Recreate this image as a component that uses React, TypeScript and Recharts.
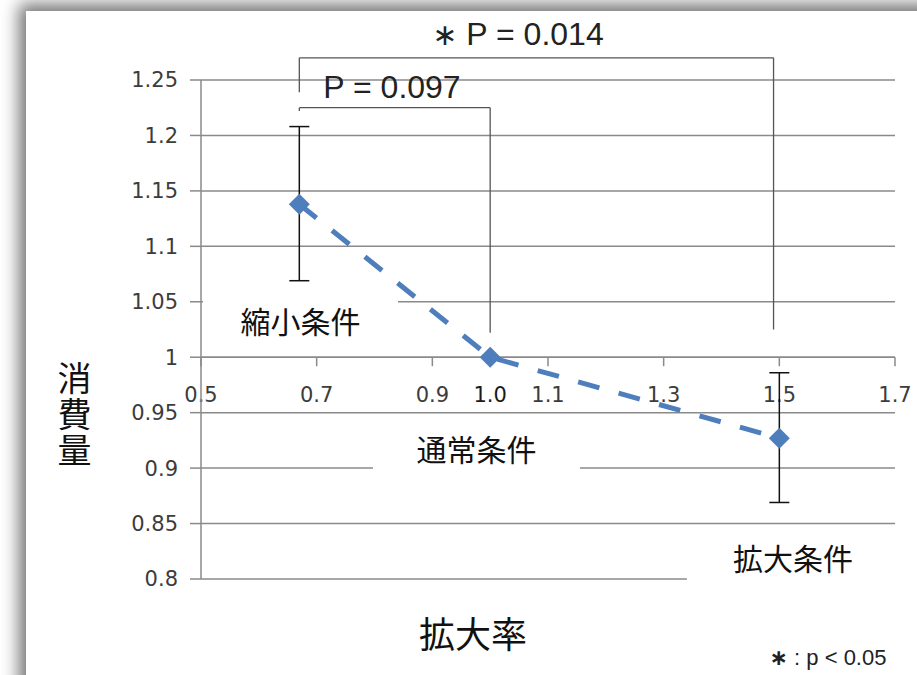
import React from 'react';
import {
  ComposedChart,
  Line,
  XAxis,
  YAxis,
  CartesianGrid,
  ReferenceLine,
  ErrorBar,
} from 'recharts';

// ---- data ----
const magnification = [0.67, 1.0, 1.5];
const consumption = [1.138, 1.0, 0.927];
const errLow = [0.069, null, 0.058];
const errHigh = [0.07, null, 0.059];
const conditionLabels = ['縮小条件', '通常条件', '拡大条件'];
const yTicks = [0.8, 0.85, 0.9, 0.95, 1, 1.05, 1.1, 1.15, 1.2, 1.25];
const yTickLabels = ['0.8', '0.85', '0.9', '0.95', '1', '1.05', '1.1', '1.15', '1.2', '1.25'];
const xTicks = [0.5, 0.7, 0.9, 1.1, 1.3, 1.5, 1.7];
const xTickLabels = ['0.5', '0.7', '0.9', '1.1', '1.3', '1.5', '1.7'];
const xExtraLabel = { value: 1.0, text: '1.0' };
const xCross = 1; // x axis crosses y at 1
const smallBracket = { x1: 0.67, x2: 1.0, top: 1.225, leftBottom: 1.222, rightBottom: 1.022 };
const largeBracket = { x1: 0.67, x2: 1.49, top: 1.27, leftBottom: 1.239, rightBottom: 1.025 };
const pSmall = 'P = 0.097';
const pLarge = 'P = 0.014';
const xTitle = '拡大率';
const yTitle = '消費量';
const footnote = ' : p < 0.05';

const data = magnification.map((x, i) => ({
  x,
  y: consumption[i],
  err: errLow[i] == null ? null : [errLow[i], errHigh[i]],
}));

const BLUE = '#4f7ebd';
const GRID = '#8a8a8a';
const CJK = '"Noto Sans CJK JP", "Noto Sans", sans-serif';
const NUM = '"DejaVu Sans", sans-serif';

const Diamond = (props: any) => {
  const { cx, cy, index } = props;
  if (cx == null || cy == null) return <g key={index} />;
  const r = 10.5;
  return (
    <path
      key={index}
      d={`M${cx},${cy - r} L${cx + r},${cy} L${cx},${cy + r} L${cx - r},${cy} Z`}
      fill={BLUE}
    />
  );
};

const makeTickShape = (label: string, showTick: boolean, dark: boolean) => (props: any) => {
  const { x1, y1, y2 } = props;
  const top = Math.min(y1, y2);
  return (
    <g>
      {showTick && <line x1={x1} y1={top} x2={x1} y2={top + 9} stroke={GRID} strokeWidth={1.5} />}
      <text
        x={x1}
        y={top + 38}
        textAnchor="middle"
        dominantBaseline="central"
        fontFamily={NUM}
        fontSize={21}
        fill={dark ? '#1a1a1a' : '#3c3c3c'}
      >
        {label}
      </text>
    </g>
  );
};

const seg = (ax: number, ay: number, bx: number, by: number, key: string) => (
  <ReferenceLine
    key={key}
    segment={[{ x: ax, y: ay }, { x: bx, y: by }]}
    stroke="#555"
    strokeWidth={1.3}
    ifOverflow="visible"
  />
);

const labelBox = (
  text: string,
  left: number,
  top: number,
  width: number,
  height: number,
  size: number
) => (
  <div
    style={{
      position: 'absolute',
      left,
      top,
      width,
      height,
      background: '#fff',
      display: 'flex',
      alignItems: 'center',
      justifyContent: 'center',
      fontFamily: CJK,
      fontSize: size,
      color: '#111',
      lineHeight: 1,
    }}
  >
    {text}
  </div>
);

export default function App() {
  return (
    <div
      style={{
        position: 'absolute',
        left: 0,
        top: 0,
        width: 917,
        height: 675,
        overflow: 'hidden',
        background: '#fff',
      }}
    >
      <div
        style={{
          position: 'absolute',
          left: 26,
          top: 11,
          width: 1000,
          height: 800,
          background: '#fff',
          boxShadow: '0 0 16px 7px rgba(0,0,0,0.55)',
        }}
      />
      <div style={{ position: 'absolute', left: 0, top: 0 }}>
        <ComposedChart
          width={917}
          height={675}
          data={data}
          margin={{ top: 80, right: 22, bottom: 96, left: 141 }}
        >
          <CartesianGrid vertical={false} stroke={GRID} strokeWidth={1.5} />
          <XAxis
            type="number"
            dataKey="x"
            domain={[0.5, 1.7]}
            allowDataOverflow
            hide
          />
          <YAxis
            type="number"
            width={60}
            domain={[0.8, 1.25]}
            ticks={yTicks}
            allowDataOverflow
            tickFormatter={(v: number) => yTickLabels[yTicks.indexOf(v)] ?? String(v)}
            axisLine={{ stroke: GRID, strokeWidth: 1.5 }}
            tickLine={{ stroke: GRID, strokeWidth: 1.5 }}
            tickSize={11}
            tickMargin={12}
            tick={{ fontFamily: NUM, fontSize: 21, fill: '#3c3c3c' }}
          />
          <ReferenceLine y={xCross} stroke={GRID} strokeWidth={1.5} />
          {xTicks.map((t, i) => (
            <ReferenceLine
              key={'xt' + i}
              segment={[{ x: t, y: xCross }, { x: t, y: 0.8 }]}
              shape={makeTickShape(xTickLabels[i], true, false)}
            />
          ))}
          <ReferenceLine
            segment={[{ x: xExtraLabel.value, y: xCross }, { x: xExtraLabel.value, y: 0.8 }]}
            shape={makeTickShape(xExtraLabel.text, false, true)}
          />
          {seg(largeBracket.x1, largeBracket.leftBottom, largeBracket.x1, largeBracket.top, 'lb1')}
          {seg(largeBracket.x1, largeBracket.top, largeBracket.x2, largeBracket.top, 'lb2')}
          {seg(largeBracket.x2, largeBracket.top, largeBracket.x2, largeBracket.rightBottom, 'lb3')}
          {seg(smallBracket.x1, smallBracket.leftBottom, smallBracket.x1, smallBracket.top, 'sb1')}
          {seg(smallBracket.x1, smallBracket.top, smallBracket.x2, smallBracket.top, 'sb2')}
          {seg(smallBracket.x2, smallBracket.top, smallBracket.x2, smallBracket.rightBottom, 'sb3')}
          <Line
            type="linear"
            dataKey="y"
            stroke={BLUE}
            strokeWidth={5}
            strokeDasharray="22 20"
            dot={Diamond}
            activeDot={false}
            isAnimationActive={false}
          >
            <ErrorBar
              dataKey="err"
              direction="y"
              width={10}
              stroke="#111"
              strokeWidth={1.5}
              isAnimationActive={false}
            />
          </Line>
        </ComposedChart>
      </div>

      {/* condition labels with white backgrounds */}
      {labelBox(conditionLabels[0], 203, 288, 195, 64, 30)}
      {labelBox(conditionLabels[1], 373, 420, 207, 56, 30)}
      {labelBox(conditionLabels[2], 687, 526, 212, 62, 30)}

      {/* p-value annotations */}
      <div
        style={{
          position: 'absolute',
          left: 518,
          top: 34,
          transform: 'translate(-50%, -50%)',
          whiteSpace: 'nowrap',
          fontFamily: '"Liberation Sans", Arial, sans-serif',
          fontSize: 32,
          color: '#222',
          lineHeight: 1,
        }}
      >
        <span style={{ fontFamily: NUM, fontSize: 30 }}>∗</span> {pLarge}
      </div>
      <div
        style={{
          position: 'absolute',
          left: 392,
          top: 87,
          transform: 'translate(-50%, -50%)',
          whiteSpace: 'nowrap',
          fontFamily: '"Liberation Sans", Arial, sans-serif',
          fontSize: 32,
          color: '#222',
          lineHeight: 1,
        }}
      >
        {pSmall}
      </div>

      {/* axis titles */}
      <div
        style={{
          position: 'absolute',
          left: 74,
          top: 415,
          transform: 'translate(-50%, -50%)',
          fontFamily: CJK,
          fontSize: 34,
          lineHeight: 1,
          letterSpacing: 2,
          color: '#111',
          writingMode: 'vertical-rl',
          textOrientation: 'upright',
          whiteSpace: 'nowrap',
        }}
      >
        {yTitle}
      </div>
      <div
        style={{
          position: 'absolute',
          left: 473,
          top: 632,
          transform: 'translate(-50%, -50%)',
          fontFamily: CJK,
          fontSize: 36,
          lineHeight: 1,
          color: '#111',
          whiteSpace: 'nowrap',
        }}
      >
        {xTitle}
      </div>

      {/* footnote */}
      <div
        style={{
          position: 'absolute',
          left: 828,
          top: 658,
          transform: 'translate(-50%, -50%)',
          fontFamily: '"Liberation Sans", Arial, sans-serif',
          fontSize: 22,
          lineHeight: 1,
          color: '#222',
          whiteSpace: 'nowrap',
        }}
      >
        <span style={{ fontFamily: NUM, fontWeight: 'bold' }}>∗</span>
        {footnote}
      </div>
    </div>
  );
}
